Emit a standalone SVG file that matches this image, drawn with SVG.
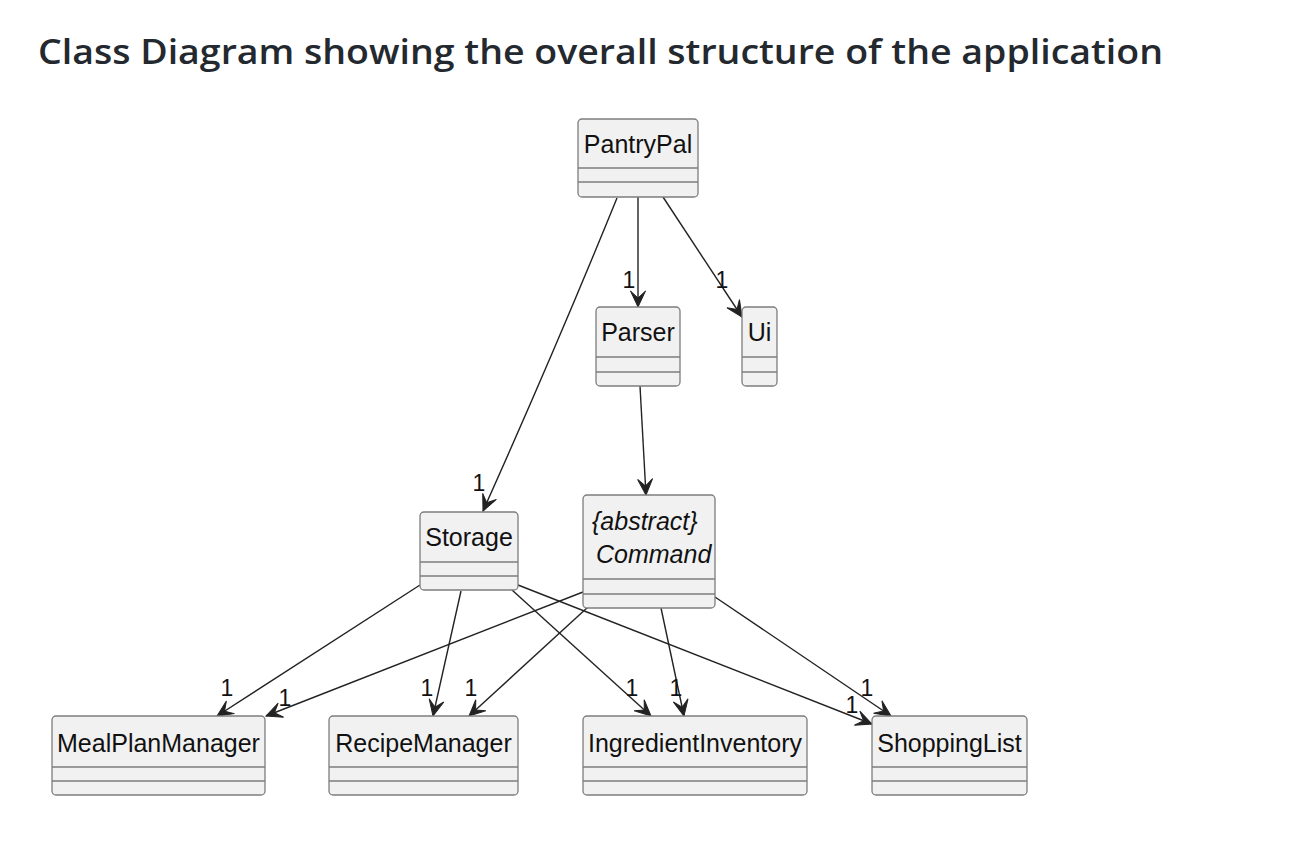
<svg xmlns="http://www.w3.org/2000/svg" width="1299" height="860" viewBox="0 0 1299 860">
<defs>
<style>
.title{font-family:"Open Sans","Noto Sans","Liberation Sans",sans-serif;font-weight:600;font-size:35px;fill:#24292f}
.box{fill:#f1f1f1;stroke:#7d7d7d;stroke-width:1.3}
.sep{stroke:#7d7d7d;stroke-width:1.3}
.name{font-family:"Liberation Sans",Arial,sans-serif;font-size:25px;fill:#111;text-anchor:middle}
.it{font-style:italic}
.edge{fill:none;stroke:#222;stroke-width:1.4}
.lbl{font-family:"Liberation Sans",Arial,sans-serif;font-size:23px;fill:#111;text-anchor:middle}
</style>
<marker id="arr" viewBox="-18 -9 20 18" refX="0" refY="0" markerWidth="20" markerHeight="18" markerUnits="userSpaceOnUse" orient="auto">
<path d="M0,0 L-16,-7.5 L-9,0 L-16,7.5 Z" fill="#222" stroke="#222" stroke-width="1"/>
</marker>
</defs>
<rect width="1299" height="860" fill="#fff"/>
<text class="title" x="38" y="64" textLength="1125" lengthAdjust="spacingAndGlyphs">Class Diagram showing the overall structure of the application</text>

<g id="edges">
<path class="edge" d="M638,197 L638,307" marker-end="url(#arr)"/>
<path class="edge" d="M663,197 L742,317" marker-end="url(#arr)"/>
<path class="edge" d="M617,198 Q556,348 483,511" marker-end="url(#arr)"/>
<path class="edge" d="M640,386 L646,495" marker-end="url(#arr)"/>
<path class="edge" d="M420,585 L217,716" marker-end="url(#arr)"/>
<path class="edge" d="M583,592 L266,716" marker-end="url(#arr)"/>
<path class="edge" d="M461,591 L433,716" marker-end="url(#arr)"/>
<path class="edge" d="M588,607 L469,716" marker-end="url(#arr)"/>
<path class="edge" d="M512,590 L651,716" marker-end="url(#arr)"/>
<path class="edge" d="M518,585 L872,724" marker-end="url(#arr)"/>
<path class="edge" d="M661,608 L684,716" marker-end="url(#arr)"/>
<path class="edge" d="M715,597 L891,716" marker-end="url(#arr)"/>
<text class="lbl" x="629" y="288">1</text>
<text class="lbl" x="722" y="288">1</text>
<text class="lbl" x="479" y="491">1</text>
<text class="lbl" x="227" y="696">1</text>
<text class="lbl" x="285" y="706">1</text>
<text class="lbl" x="427" y="696">1</text>
<text class="lbl" x="471" y="696">1</text>
<text class="lbl" x="632" y="696">1</text>
<text class="lbl" x="676" y="696">1</text>
<text class="lbl" x="867" y="696">1</text>
<text class="lbl" x="852" y="713">1</text>
</g>

<g id="PantryPal">
<rect class="box" x="578" y="119" width="120" height="78" rx="4"/>
<line class="sep" x1="578" y1="168" x2="698" y2="168"/>
<line class="sep" x1="578" y1="182" x2="698" y2="182"/>
<text class="name" x="638" y="153">PantryPal</text>
</g>
<g id="Parser">
<rect class="box" x="596" y="307" width="84" height="79" rx="4"/>
<line class="sep" x1="596" y1="357" x2="680" y2="357"/>
<line class="sep" x1="596" y1="372" x2="680" y2="372"/>
<text class="name" x="638" y="341">Parser</text>
</g>
<g id="Ui">
<rect class="box" x="742" y="307" width="35" height="79" rx="4"/>
<line class="sep" x1="742" y1="357" x2="777" y2="357"/>
<line class="sep" x1="742" y1="372" x2="777" y2="372"/>
<text class="name" x="759.5" y="341">Ui</text>
</g>
<g id="Storage">
<rect class="box" x="420" y="512" width="98" height="78" rx="4"/>
<line class="sep" x1="420" y1="562" x2="518" y2="562"/>
<line class="sep" x1="420" y1="576" x2="518" y2="576"/>
<text class="name" x="469" y="546">Storage</text>
</g>
<g id="Command">
<rect class="box" x="583" y="495" width="132" height="113" rx="4"/>
<line class="sep" x1="583" y1="579" x2="715" y2="579"/>
<line class="sep" x1="583" y1="594" x2="715" y2="594"/>
<text class="name it" x="592" y="530" style="text-anchor:start">{abstract}</text>
<text class="name it" x="596" y="563" style="text-anchor:start">Command</text>
</g>
<g id="MealPlanManager">
<rect class="box" x="52" y="716" width="213" height="79" rx="4"/>
<line class="sep" x1="52" y1="767" x2="265" y2="767"/>
<line class="sep" x1="52" y1="781" x2="265" y2="781"/>
<text class="name" x="158.5" y="752">MealPlanManager</text>
</g>
<g id="RecipeManager">
<rect class="box" x="329" y="716" width="189" height="79" rx="4"/>
<line class="sep" x1="329" y1="767" x2="518" y2="767"/>
<line class="sep" x1="329" y1="781" x2="518" y2="781"/>
<text class="name" x="423.5" y="752">RecipeManager</text>
</g>
<g id="IngredientInventory">
<rect class="box" x="583" y="716" width="224" height="79" rx="4"/>
<line class="sep" x1="583" y1="767" x2="807" y2="767"/>
<line class="sep" x1="583" y1="781" x2="807" y2="781"/>
<text class="name" x="695" y="752">IngredientInventory</text>
</g>
<g id="ShoppingList">
<rect class="box" x="872" y="716" width="155" height="79" rx="4"/>
<line class="sep" x1="872" y1="767" x2="1027" y2="767"/>
<line class="sep" x1="872" y1="781" x2="1027" y2="781"/>
<text class="name" x="949.5" y="752">ShoppingList</text>
</g>
</svg>
